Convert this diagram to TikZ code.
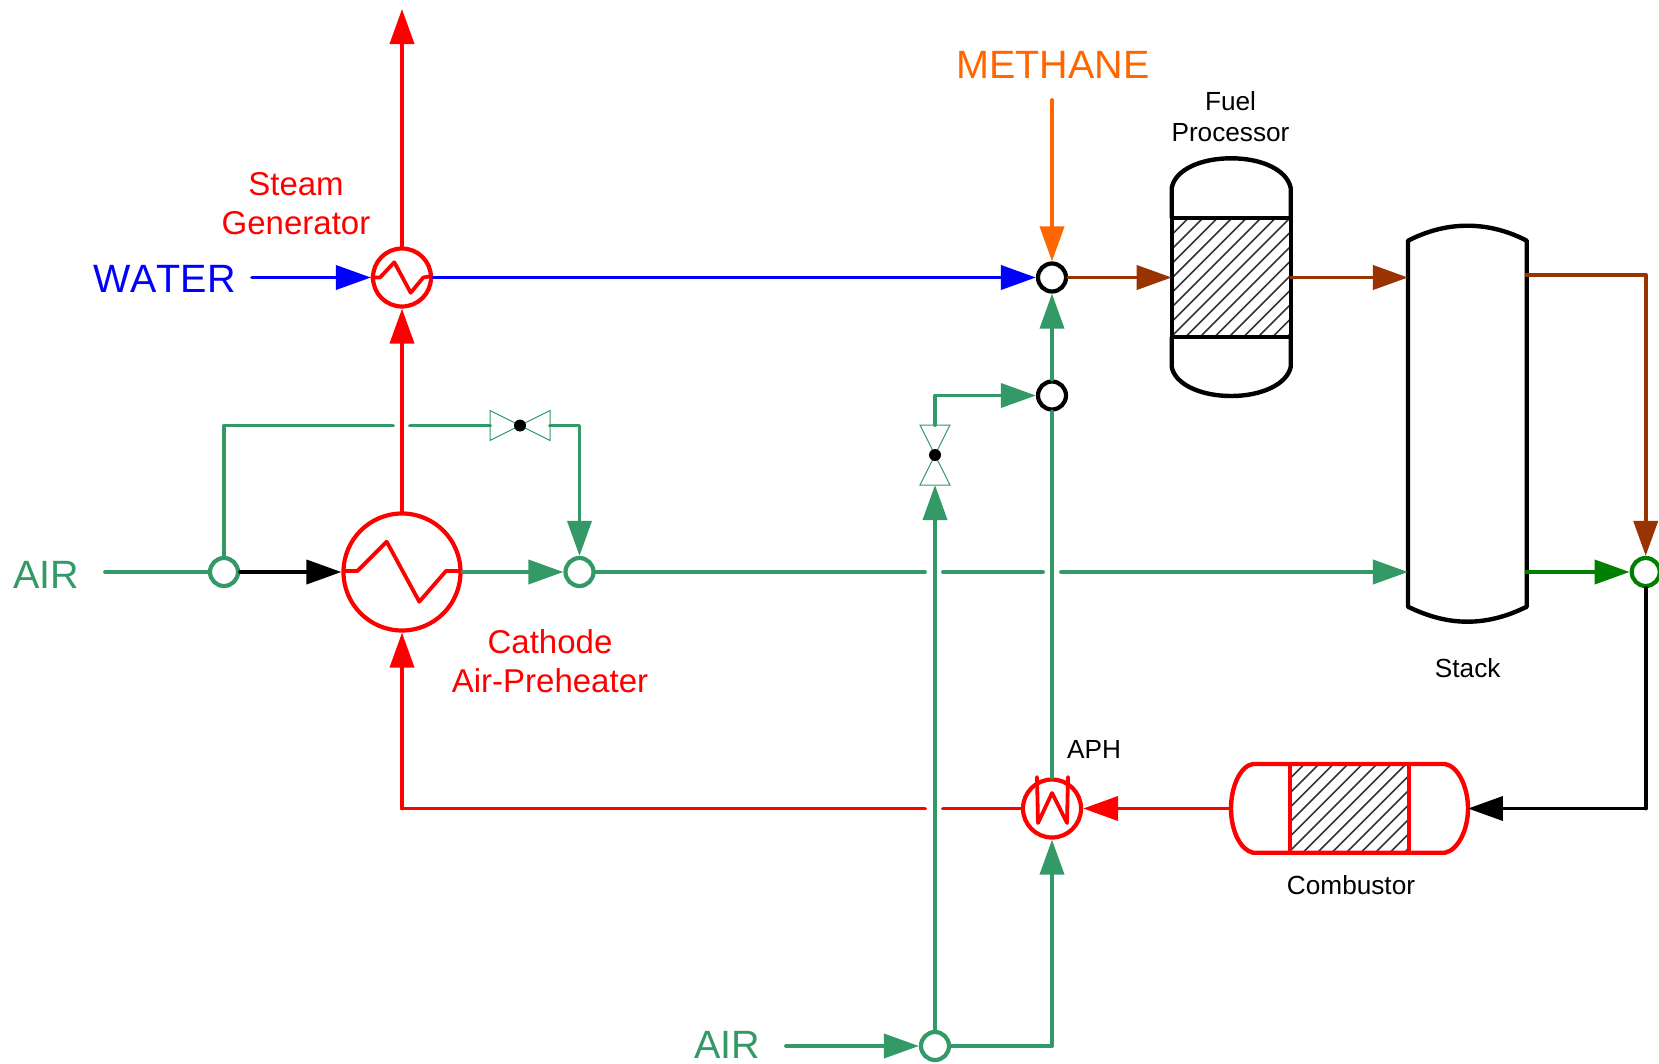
\documentclass[tikz,border=0pt]{standalone}
\usepackage{fontspec}
\setmainfont[Kerning=Off]{Liberation Sans}
\usetikzlibrary{arrows.meta}
\definecolor{gr}{HTML}{339966}
\definecolor{dgr}{HTML}{008000}
\definecolor{org}{HTML}{FF6600}
\definecolor{brn}{HTML}{993300}
\definecolor{blu}{HTML}{0000FF}
\definecolor{rd}{HTML}{FF0000}
\tikzset{
  pipe/.style={line width=3.8pt,line cap=round,line join=round},
  flow/.style={pipe,-{Triangle[length=35pt,width=24pt]}},
  hx/.style={circle,draw=rd,line width=4.2pt,inner sep=0pt},
  tee/.style={circle,draw=#1,line width=4.2pt,inner sep=0pt,minimum size=28pt},
  vesselline/.style={line width=4.4pt,line join=round},
  hatchline/.style={line width=1.5pt,black!80},
  valvebody/.style={draw=gr,line width=1pt,fill=white},
  valvedot/.style={circle,fill=black,inner sep=0pt,minimum size=12pt},
  coil/.style={draw=rd,line width=3.8pt,line join=round},
  big/.style={font=\fontsize{39.5}{39.5}\selectfont,inner sep=0pt},
  mid/.style={font=\fontsize{33}{39}\selectfont,text=rd,align=center,inner sep=0pt},
  small/.style={font=\fontsize{26.2}{31}\selectfont,text=black,align=center,inner sep=0pt},
}
\begin{document}
\begin{tikzpicture}[x=1pt,y=-1pt]
\useasboundingbox (0,0) rectangle (1659,1063);
% equipment nodes
\node[hx,minimum size=58pt] (sg) at (402,277.5) {};
\node[hx,minimum size=117pt] (cph) at (402,572) {};
\node[hx,minimum size=58pt] (aph) at (1052,808.5) {};
\node[tee=gr] (airl) at (224,572) {};
\node[tee=gr] (cmix) at (579.5,572) {};
\node[tee=black] (mix) at (1052,277.5) {};
\node[tee=black] (junc) at (1052,395.5) {};
\node[tee=dgr] (emix) at (1645.7,572) {};
\node[tee=gr] (airb) at (935,1046) {};
\node[minimum width=60pt,minimum height=30pt,inner sep=0pt,outer sep=0pt] (v1) at (520,425.5) {};
\node[minimum width=30pt,minimum height=60pt,inner sep=0pt,outer sep=0pt] (v2) at (935,455) {};
\node[minimum width=119pt,minimum height=118.7pt,inner sep=0pt,outer sep=0pt] (fp) at (1231.2,277.5) {};
\node[minimum width=118.7pt,minimum height=396pt,inner sep=0pt,outer sep=0pt] (stack) at (1467.3,423.7) {};
\node[minimum width=237.3pt,minimum height=88.7pt,inner sep=0pt,outer sep=0pt] (comb) at (1349.3,808.5) {};
% free ends and crossings
\coordinate (steamout) at (402,9);
\coordinate (waterin) at (252,277.5);
\coordinate (methin) at (1052,100);
\coordinate (airlin) at (105,572);
\coordinate (airbin) at (786,1046);
\coordinate (redcorner) at (402,808.5);
\coordinate (ga1) at (393,425.5);
\coordinate (ga2) at (410,425.5);
\coordinate (gb1) at (925,572);
\coordinate (gb2) at (943,572);
\coordinate (gc1) at (1043,572);
\coordinate (gc2) at (1061,572);
\coordinate (gd1) at (943,808.5);
\coordinate (gd2) at (925,808.5);
\coordinate (stackout) at (1526.5,275);
\coordinate (stackoutg) at (1526.5,572);
\coordinate (elbow) at (1645.7,275);
\coordinate (eblack) at (1645.7,808.5);
% vessels
\begin{scope}
  \clip (fp.south west) rectangle (fp.north east);
  \foreach \k in {-14,...,16}
    \draw[hatchline] (1171+14.5*\k,337) -- ++(120,-120);
\end{scope}
\draw[vesselline] (1171.7,218) -- (1171.7,188) .. controls (1175,170) and (1200,158.3) .. (1231.2,158.3) .. controls (1262,158.3) and (1287,170) .. (1290.7,188) -- (1290.7,218);
\draw[vesselline] (1171.7,337) -- (1171.7,367) .. controls (1175,384) and (1200,396) .. (1231.2,396) .. controls (1262,396) and (1287,384) .. (1290.7,367) -- (1290.7,337);
\draw[vesselline] (1171.7,218) rectangle (1290.7,336.7);
\draw[vesselline] (1408,240.7) .. controls (1425,232) and (1445,225.7) .. (1467.3,225.7) .. controls (1490,225.7) and (1510,232) .. (1526.7,240.7) -- (1526.7,606.7) .. controls (1510,615) and (1490,621.7) .. (1467.3,621.7) .. controls (1445,621.7) and (1425,615) .. (1408,606.7) -- cycle;
\begin{scope}
  \clip (1290,764) rectangle (1409,852.7);
  \foreach \k in {-9,...,16}
    \draw[hatchline] (1230+14.5*\k,853) -- ++(100,-100);
\end{scope}
\draw[vesselline,draw=rd] (1253,764) -- (1445,764) .. controls (1458,766) and (1468,787) .. (1468,808.5) .. controls (1468,830) and (1458,850) .. (1445,852.7) -- (1253,852.7) .. controls (1240,850) and (1231,830) .. (1231,808.5) .. controls (1231,787) and (1240,766) .. (1253,764) -- cycle;
\draw[vesselline,draw=rd] (1290,764) -- (1290,852.7) (1409,764) -- (1409,852.7);
% coils
\draw[coil] (370.7,277.5) -- (380,277.5) -- (394.3,262.3) -- (410.7,292.7) -- (423.3,277.5) -- (432,276);
\draw[coil] (342,571) -- (357.3,571) -- (386.7,541.7) -- (419.3,601.7) -- (446,571) -- (461.7,571);
\draw[coil,line cap=round] (1037,777) -- (1038,823) -- (1052,793) -- (1067,823) -- (1068,777);
% valves
\draw[valvebody] (v1.north west) -- (v1.south east) -- (v1.north east) -- (v1.south west) -- cycle;
\draw[valvebody] (v2.north west) -- (v2.north east) -- (v2.south west) -- (v2.south east) -- cycle;
\node[valvedot] (v1d) at (v1) {};
\node[valvedot] (v2d) at (v2) {};
% connectors
\draw[flow,draw=blu,fill=blu] (waterin) -- (sg.west);
\draw[flow,draw=blu] (sg.east) -- (mix.west);
\draw[flow,draw=rd] (sg.north) -- (steamout);
\draw[flow,draw=rd] (cph.north) -- (sg.south);
\draw[flow,draw=org] (methin) -- (mix.north);
\draw[flow,draw=gr] (junc.north) -- (mix.south);
\draw[flow,draw=brn] (mix.east) -- (fp.west);
\draw[flow,draw=brn] (fp.east) -- (stack.west |- fp.east);
\draw[pipe,draw=gr] (airlin) -- (airl.west);
\draw[flow,draw=black] (airl.east) -- (cph.west);
\draw[flow,draw=gr] (cph.east) -- (cmix.west);
\draw[pipe,draw=gr] (airl.north) |- (ga1);
\draw[pipe,draw=gr] (ga2) -- (v1.west);
\draw[flow,draw=gr] (v1.east) -| (cmix.north);
\draw[pipe,draw=gr] (cmix.east) -- (gb1);
\draw[pipe,draw=gr] (gb2) -- (gc1);
\draw[flow,draw=gr] (gc2) -- (stack.west |- gc2);
\draw[flow,draw=gr] (airbin) -- (airb.west);
\draw[flow,draw=gr] (airb.north) -- (v2.south);
\draw[flow,draw=gr] (v2.north) |- (junc.west);
\draw[flow,draw=gr] (airb.east) -| (aph.south);
\draw[pipe,draw=gr] (aph.north) -- (junc.south);
\draw[pipe,draw=brn] (stackout) -- (elbow);
\draw[flow,draw=brn] (elbow) -- (emix.north);
\draw[flow,draw=dgr] (stackoutg) -- (emix.west);
\draw[pipe,draw=black] (emix.south) -- (eblack);
\draw[flow,draw=black] (eblack) -- (comb.east);
\draw[flow,draw=rd] (comb.west) -- (aph.east);
\draw[pipe,draw=rd] (aph.west) -- (gd1);
\draw[pipe,draw=rd] (gd2) -- (redcorner);
\draw[flow,draw=rd] (redcorner) -- (cph.south);
% labels
\node[big,text=blu,anchor=base] (lw) at (164.5,292.7) {WATER};
\node[big,text=org,anchor=base] (lm) at (1053,78.4) {METHANE};
\node[big,text=gr,anchor=base] (la1) at (46,588) {AIR};
\node[big,text=gr,anchor=base] (la2) at (727,1058) {AIR};
\node[mid] (ls) at (296,204) {Steam\\Generator};
\node[mid] (lc) at (550,661) {Cathode\\Air-Preheater};
\node[small] (lf) at (1230.5,116.5) {Fuel\\Processor};
\node[small,anchor=base] (lst) at (1467.7,677) {Stack};
\node[small,anchor=base] (lap) at (1094,758) {APH};
\node[small,anchor=base] (lcb) at (1351,894) {Combustor};
\end{tikzpicture}
\end{document}
